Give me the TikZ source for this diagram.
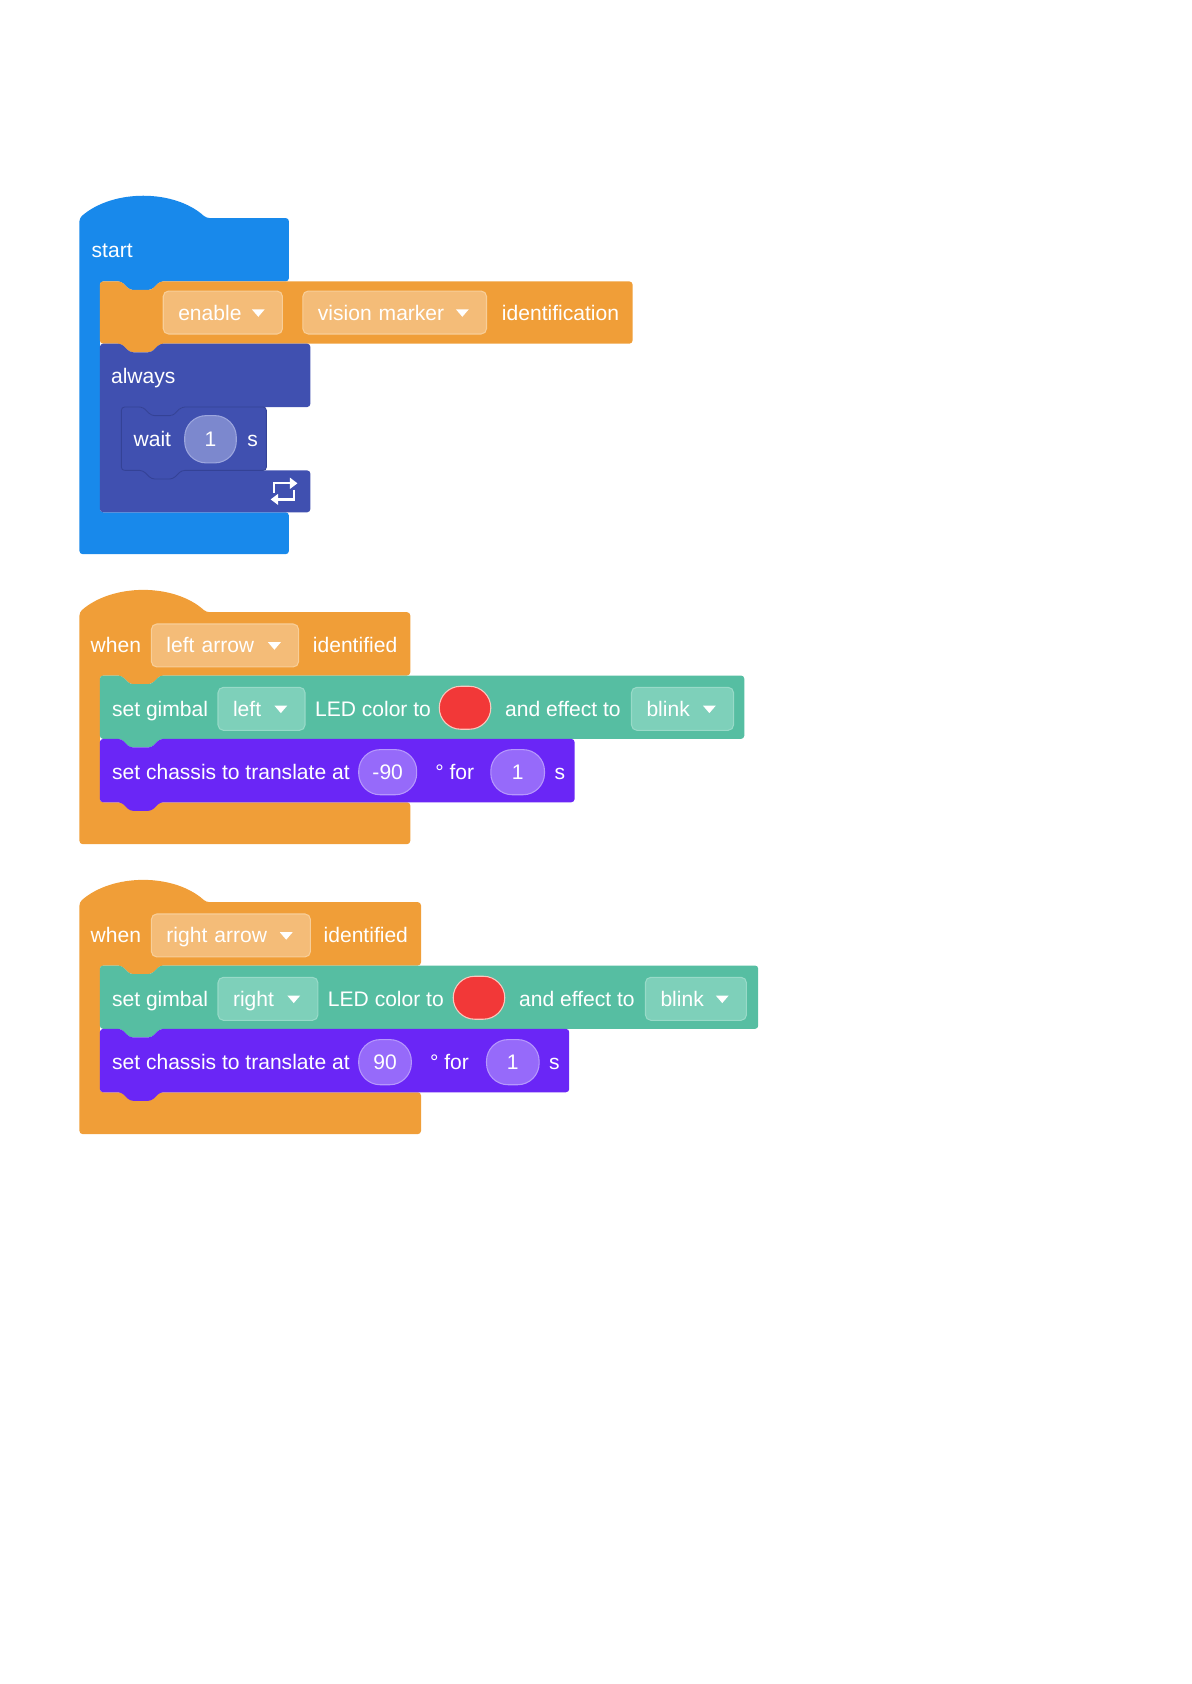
\documentclass[tikz,border=0pt]{standalone}
\usepackage{fontspec}
\setmainfont{Liberation Sans}
\usetikzlibrary{arrows.meta,calc}

\definecolor{startblue}{RGB}{24,137,235}
\definecolor{eventorange}{RGB}{240,158,56}
\definecolor{fieldorange}{RGB}{244,188,120}
\definecolor{fieldorangeedge}{RGB}{248,206,152}
\definecolor{loopblue}{RGB}{64,80,176}
\definecolor{loopedge}{RGB}{52,66,150}
\definecolor{pillblue}{RGB}{124,136,206}
\definecolor{pillblueedge}{RGB}{156,166,222}
\definecolor{gimbalteal}{RGB}{86,190,162}
\definecolor{fieldteal}{RGB}{126,208,186}
\definecolor{fieldtealedge}{RGB}{152,218,200}
\definecolor{chassisviolet}{RGB}{106,38,246}
\definecolor{pillviolet}{RGB}{150,106,250}
\definecolor{pillvioletedge}{RGB}{182,152,252}
\definecolor{ledred}{RGB}{242,56,56}
\definecolor{lededge}{RGB}{250,200,190}

% statement block: x1 y1 x2 y2 (top dent, bottom tab)
\newcommand{\stmtshape}[4]{(#1,#2) -- ({#1+20},#2) -- ({#1+28},{#2+8}) -- ({#1+48},{#2+8}) -- ({#1+56},#2) -- (#3,#2) -- (#3,#4) -- ({#1+56},#4) -- ({#1+48},{#4+8}) -- ({#1+28},{#4+8}) -- ({#1+20},#4) -- (#1,#4) -- cycle}
% hat block with mouth: x1 ytop xright yarm ymouth ybottom
\newcommand{\hatshape}[6]{(#1,#2) .. controls ({#1+31},{#2-27}) and ({#1+88},{#2-27}) .. ({#1+118},#2) -- (#3,#2) -- (#3,#4) -- ({#1+75},#4) -- ({#1+67},{#4+8}) -- ({#1+47},{#4+8}) -- ({#1+39},#4) -- ({#1+19},#4) -- ({#1+19},#5) -- (#3,#5) -- (#3,#6) -- (#1,#6) -- cycle}
% dropdown marker at the right end of a field
\newcommand{\dropmark}[1]{\fill[white] ($(#1.east)+(-29,-3)$) -- ++(12,0) -- ++(-6,7) -- cycle;}

\begin{document}
\begin{tikzpicture}[
    x=0.5pt, y=-0.5pt,
    font=\fontsize{9.8}{11.8}\selectfont,
    lbl/.style={text=white, anchor=west, inner sep=0pt, text height=8.5pt, text depth=1.5pt},
    field/.style={rectangle, rounded corners=2.5pt, minimum height=20pt, inner xsep=7pt, inner ysep=0pt, align=left, text=white, line width=0.5pt, text height=8.5pt, text depth=1.5pt},
    orangefield/.style={field, fill=fieldorange, draw=fieldorangeedge},
    tealfield/.style={field, fill=fieldteal, draw=fieldtealedge},
    pill/.style={rectangle, rounded corners=10pt, minimum height=21pt, inner sep=0pt, text=white, line width=0.5pt, text height=8.5pt, text depth=1.5pt},
    bluepill/.style={pill, fill=pillblue, draw=pillblueedge, minimum height=22pt},
    violetpill/.style={pill, fill=pillviolet, draw=pillvioletedge},
    ledswatch/.style={pill, fill=ledred, draw=lededge, minimum width=24pt, minimum height=20pt}
]
\useasboundingbox (0,0) rectangle (1109,1568);

% Script 1: start
\fill[startblue, rounded corners=1.5pt] \hatshape{74}{203}{269}{262}{477}{516};
\fill[eventorange, rounded corners=1.5pt] \stmtshape{93}{262}{589}{320};
\fill[loopblue, rounded corners=1.5pt] (93,320) -- (113,320) -- (121,328) -- (141,328) -- (149,320) -- (289,320) -- (289,379) -- (169,379) -- (161,387) -- (141,387) -- (133,379) -- (113,379) -- (113,438) -- (289,438) -- (289,477) -- (93,477) -- cycle;
\filldraw[fill=loopblue, draw=loopedge, line width=0.4pt, rounded corners=1.5pt] \stmtshape{113}{379}{248}{438};

\node[lbl] (startlbl) at (85,233) {start};
\node[orangefield, text width=41.5pt] (fenable) at (207.5,291) {enable};
\dropmark{fenable}
\node[orangefield, text width=71.5pt] (fvision) at (367.5,291) {vision marker};
\dropmark{fvision}
\node[lbl] (identlbl) at (467,291) {identification};
\node[lbl] (alwayslbl) at (103,350) {always};
\node[lbl] (waitlbl) at (124,409) {wait};
\node[bluepill, minimum width=24pt] (pwait) at (196,409) {1};
\node[lbl] (waitunit) at (230,409) {s};
\coordinate (loopicon) at (265,457);
\draw[white, line width=1.1pt, -{Triangle[length=3.5pt,width=5pt]}] ($(loopicon)+(-10,2)$) |- ($(loopicon)+(12,-7)$);
\draw[white, line width=1.1pt, -{Triangle[length=3.5pt,width=5pt]}] ($(loopicon)+(9,-1)$) |- ($(loopicon)+(-13,8)$);

% Script 2: left arrow
\fill[eventorange, rounded corners=1.5pt] \hatshape{74}{570}{382}{629}{747}{786};
\fill[gimbalteal, rounded corners=1.5pt] \stmtshape{93}{629}{693}{688};
\fill[chassisviolet, rounded corners=1.5pt] \stmtshape{93}{688}{535}{747};

\node[lbl] (whenA) at (84,601) {when};
\node[orangefield, text width=54.5pt] (fleftarrow) at (209.5,601) {left arrow};
\dropmark{fleftarrow}
\node[lbl] (identA) at (291,601) {identified};
\node[lbl] (gimbalA) at (104,660) {set gimbal};
\node[tealfield, text width=26.5pt] (fleft) at (243.5,660) {left};
\dropmark{fleft}
\node[lbl] (ledA) at (293,660) {LED color to};
\node[ledswatch] (redA) at (433,659) {};
\node[lbl] (effectA) at (470,660) {and effect to};
\node[tealfield, text width=33.5pt] (fblinkA) at (635.5,660) {blink};
\dropmark{fblinkA}
\node[lbl] (chassisA) at (104,719) {set chassis to translate at};
\node[violetpill, minimum width=27pt] (pangleA) at (361,719) {-90};
\node[lbl] (forA) at (405,719) {° for};
\node[violetpill, minimum width=25pt] (ptimeA) at (482,719) {1};
\node[lbl] (unitA) at (516,719) {s};

% Script 3: right arrow
\fill[eventorange, rounded corners=1.5pt] \hatshape{74}{840}{392}{899}{1017}{1056};
\fill[gimbalteal, rounded corners=1.5pt] \stmtshape{93}{899}{706}{958};
\fill[chassisviolet, rounded corners=1.5pt] \stmtshape{93}{958}{530}{1017};

\node[lbl] (whenB) at (84,871) {when};
\node[orangefield, text width=60pt] (frightarrow) at (215,871) {right arrow};
\dropmark{frightarrow}
\node[lbl] (identB) at (301,871) {identified};
\node[lbl] (gimbalB) at (104,930) {set gimbal};
\node[tealfield, text width=32.5pt] (fright) at (249.5,930) {right};
\dropmark{fright}
\node[lbl] (ledB) at (305,930) {LED color to};
\node[ledswatch] (redB) at (446,929) {};
\node[lbl] (effectB) at (483,930) {and effect to};
\node[tealfield, text width=33pt] (fblinkB) at (648,930) {blink};
\dropmark{fblinkB}
\node[lbl] (chassisB) at (104,989) {set chassis to translate at};
\node[violetpill, minimum width=24.5pt] (pangleB) at (358.5,989) {90};
\node[lbl] (forB) at (400,989) {° for};
\node[violetpill, minimum width=24.5pt] (ptimeB) at (477.5,989) {1};
\node[lbl] (unitB) at (511,989) {s};

\end{tikzpicture}
\end{document}
